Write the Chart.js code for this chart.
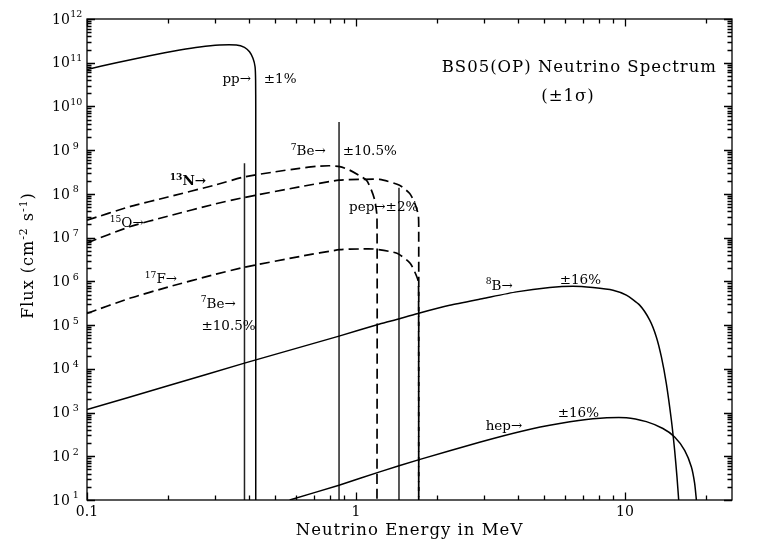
<!DOCTYPE html>
<html>
<head>
<meta charset="utf-8">
<script src="https://cdn.jsdelivr.net/npm/chart.js@4.4.1/dist/chart.umd.min.js"></script>
<style>
  html, body { margin: 0; padding: 0; background: #fff; }
  #wrap { width: 762px; height: 553px; }
</style>
</head>
<body>
<div id="wrap"><canvas id="spectrum" width="762" height="553"></canvas></div>
<script>
// energies in MeV, flux in cm^-2 s^-1 (per MeV for the continuum sources)
const ppEnergy = [0.1, 0.1286, 0.171, 0.2213, 0.2626, 0.311, 0.359, 0.385, 0.402, 0.414, 0.4215, 0.4235, 0.424, 0.424];
const ppFlux   = [7.0e10, 1.0e11, 1.45e11, 1.95e11, 2.3e11, 2.54e11, 2.54e11, 2.25e11, 1.78e11, 1.26e11, 8.1e10, 4.0e10, 8.3e9, 10];

const n13Energy = [0.1, 0.144, 0.2, 0.3, 0.385, 0.5, 0.617, 0.72, 0.80, 0.87, 0.947, 1.093, 1.141, 1.174, 1.197, 1.197];
const n13Flux   = [2.5e7, 5.1e7, 8.5e7, 1.6e8, 2.45e8, 3.2e8, 3.85e8, 4.3e8, 4.4e8, 4.2e8, 3.5e8, 2.07e8, 1.22e8, 7.2e7, 3.0e7, 10];

const o15Energy = [0.1, 0.144, 0.2, 0.3, 0.385, 0.617, 0.865, 1.03, 1.225, 1.452, 1.584, 1.653, 1.705, 1.711, 1.711];
const o15Flux   = [7.6e6, 1.77e7, 3.1e7, 5.9e7, 8.3e7, 1.45e8, 2.07e8, 2.14e8, 2.14e8, 1.58e8, 1.02e8, 6.2e7, 3.3e7, 1.5e7, 10];

const f17Energy = [0.1, 0.144, 0.2, 0.3, 0.385, 0.617, 0.87, 1.03, 1.16, 1.42, 1.59, 1.70, 1.709, 1.711];
const f17Flux   = [1.85e5, 4.1e5, 7.4e5, 1.45e6, 2.1e6, 3.7e6, 5.3e6, 5.5e6, 5.5e6, 4.4e6, 2.6e6, 1.07e6, 5.0e5, 10];

const b8Energy = [0.1, 0.2, 0.385, 0.865, 1.225, 1.454, 1.725, 2.23, 2.97, 3.95, 5.25, 6.41, 7.60, 9.03, 10.12, 11.34, 12.36, 13.08, 13.66, 14.25, 14.88, 15.30, 15.61, 15.84];
const b8Flux   = [1170, 4.1e3, 1.35e4, 5.6e4, 1.06e5, 1.40e5, 1.9e5, 2.85e5, 4.06e5, 5.75e5, 7.25e5, 7.76e5, 7.24e5, 6.29e5, 4.83e5, 2.86e5, 1.30e5, 5.37e4, 1.87e4, 4.6e3, 667, 137, 33.6, 10];

const hepEnergy = [0.567, 0.865, 1.225, 1.73, 2.88, 4.17, 5.72, 7.60, 10.12, 12.01, 13.84, 15.30, 16.67, 17.66, 18.16, 18.43];
const hepFlux   = [10, 21.8, 44, 85, 210, 380, 560, 720, 765, 620, 431, 277, 137, 57, 24, 10];

// monoenergetic lines: 7Be (two), pep
const lineEnergy = [0.385, 0.865, 1.445];
const lineFlux   = [5.0e8, 4.4e9, 1.38e8];

const xTickValues = [0.1, 1, 10];
const xTickLabels = ['0.1', '1', '10'];
const yTickExponents = [1, 2, 3, 4, 5, 6, 7, 8, 9, 10, 11, 12];

// annotation texts, anchored (left edge, middle) in data coordinates
const noteText = ['pp→', '±1%', '^{7}Be→', '±10.5%', '^{13}N→', '^{15}O→', 'pep→±2%', '^{17}F→', '^{7}Be→', '±10.5%', '^{8}B→', '±16%', 'hep→', '±16%'];
const noteEnergy = [0.3187, 0.454, 0.572, 0.892, 0.203, 0.1214, 0.942, 0.164, 0.2647, 0.2663, 3.035, 5.72, 3.035, 5.62];
const noteFlux = [4.2e10, 4.2e10, 9.2e8, 9.2e8, 1.9e8, 2.1e7, 4.8e7, 1.1e6, 3.0e5, 9.1e4, 7.76e5, 1.07e6, 470, 964];

const FONT = '"DejaVu Serif", "Liberation Serif", serif';

function curve(E, F, dashed) {
    return {
        data: E.map((e, i) => ({ x: e, y: F[i] })),
        borderColor: '#000',
        borderWidth: dashed ? 1.7 : 1.5,
        borderDash: dashed ? [10, 5] : [],
        pointRadius: 0,
        tension: 0.2,
        fill: false
    };
}

const datasets = [
    curve(ppEnergy, ppFlux, false),
    curve(n13Energy, n13Flux, true),
    curve(o15Energy, o15Flux, true),
    curve(f17Energy, f17Flux, true),
    curve(b8Energy, b8Flux, false),
    curve(hepEnergy, hepFlux, false)
];
lineEnergy.forEach((e, i) => {
    const d = curve([e, e], [10, lineFlux[i]], false);
    d.borderColor = '#222';
    d.tension = 0;
    datasets.push(d);
});

// text with ^{..} superscripts
function richText(ctx, str, x, y, size, align, bold) {
    const parts = str.split(/(\^\{[^}]*\})/).filter(s => s.length);
    const w = bold ? 'bold ' : '';
    const segs = parts.map(p => {
        const sup = p.startsWith('^{');
        const t = sup ? p.slice(2, -1) : p;
        const fs = sup ? size * 0.68 : size;
        ctx.font = w + fs + 'px ' + FONT;
        return { t, sup, fs, width: ctx.measureText(t).width };
    });
    const total = segs.reduce((s, g) => s + g.width, 0);
    let cx = align === 'center' ? x - total / 2 : align === 'right' ? x - total : x;
    ctx.textAlign = 'left';
    ctx.textBaseline = 'middle';
    segs.forEach(g => {
        ctx.font = w + g.fs + 'px ' + FONT;
        ctx.fillText(g.t, cx, g.sup ? y - size * 0.32 : y);
        cx += g.width;
    });
}

const framePlugin = {
    id: 'frame',
    afterDraw(chart) {
        const ctx = chart.ctx;
        const a = chart.chartArea;
        const xs = chart.scales.x, ys = chart.scales.y;
        ctx.save();
        ctx.setLineDash([]);
        ctx.strokeStyle = '#000';
        ctx.fillStyle = '#000';
        ctx.lineWidth = 1.3;
        ctx.strokeRect(a.left, a.top, a.right - a.left, a.bottom - a.top);

        // inward ticks on all four sides
        ctx.lineWidth = 1.3;
        ctx.beginPath();
        for (let k = -1; k <= 1; k++) {
            for (let m = 1; m <= 9; m++) {
                const v = m * Math.pow(10, k);
                if (v < 0.1 || v > 25) continue;
                const px = Math.round(xs.getPixelForValue(v)) + 0.5;
                const len = m === 1 ? 7.5 : 4.5;
                ctx.moveTo(px, a.bottom); ctx.lineTo(px, a.bottom - len);
                ctx.moveTo(px, a.top); ctx.lineTo(px, a.top + len);
            }
        }
        for (let k = 1; k <= 12; k++) {
            for (let m = 1; m <= 9; m++) {
                const v = m * Math.pow(10, k);
                if (v > 1e12 * 1.001) continue;
                const py = Math.round(ys.getPixelForValue(v)) + 0.5;
                const len = m === 1 ? 8 : 4.5;
                ctx.moveTo(a.left, py); ctx.lineTo(a.left + len, py);
                ctx.moveTo(a.right, py); ctx.lineTo(a.right - len, py);
            }
        }
        ctx.stroke();

        // tick labels
        ctx.textBaseline = 'middle';
        ctx.textAlign = 'center';
        ctx.font = '14px ' + FONT;
        xTickValues.forEach((v, i) => {
            ctx.fillText(xTickLabels[i], xs.getPixelForValue(v), a.bottom + 12);
        });
        yTickExponents.forEach(k => {
            const py = ys.getPixelForValue(Math.pow(10, k));
            ctx.textAlign = 'left';
            ctx.font = '14px ' + FONT;
            ctx.fillText('10', 52, py + 1);
            const w10 = ctx.measureText('10').width;
            ctx.font = '9.5px ' + FONT;
            ctx.fillText(String(k), 52 + w10 + (k < 10 ? 3 : 0.5), py - 4);
        });

        // axis titles
        ctx.letterSpacing = '1px';
        ctx.font = '16.5px ' + FONT;
        ctx.textAlign = 'center';
        ctx.fillText('Neutrino Energy in MeV', (a.left + a.right) / 2, a.bottom + 31);
        ctx.save();
        ctx.translate(29, (a.top + a.bottom) / 2 - 4);
        ctx.rotate(-Math.PI / 2);
        richText(ctx, 'Flux (cm^{-2} s^{-1})', 0, 0, 16, 'center', false);
        ctx.restore();

        // chart title
        ctx.font = '16.5px ' + FONT;
        ctx.textAlign = 'right';
        ctx.fillText('BS05(OP) Neutrino Spectrum', a.right - 15, a.top + 49);
        ctx.textAlign = 'center';
        ctx.fillText('(±1σ)', a.left + 481, a.top + 78);
        ctx.letterSpacing = '0px';

        // source annotations
        noteText.forEach((t, i) => {
            const px = xs.getPixelForValue(noteEnergy[i]);
            const py = ys.getPixelForValue(noteFlux[i]);
            richText(ctx, t, px, py, 13.5, 'left', t === '^{13}N→');
        });
        ctx.restore();
    }
};

new Chart(document.getElementById('spectrum'), {
    type: 'line',
    data: { datasets: datasets },
    options: {
        responsive: false,
        animation: false,
        devicePixelRatio: 1,
        layout: { padding: { left: 87, right: 30, top: 19, bottom: 53 } },
        plugins: { legend: { display: false }, tooltip: { enabled: false } },
        scales: {
            x: { type: 'logarithmic', min: 0.1, max: 25, display: false },
            y: { type: 'logarithmic', min: 10, max: 1e12, display: false }
        }
    },
    plugins: [framePlugin]
});
</script>
</body>
</html>
